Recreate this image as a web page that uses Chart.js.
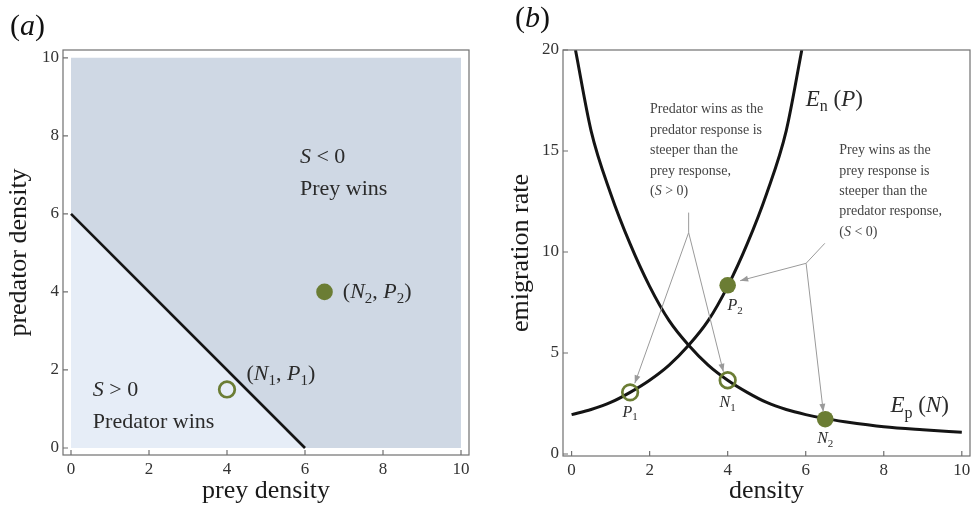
<!DOCTYPE html>
<html>
<head>
<meta charset="utf-8">
<script src="https://cdn.jsdelivr.net/npm/chart.js@4.4.0/dist/chart.umd.min.js"></script>
<style>
  html, body { margin: 0; padding: 0; background: #fff; overflow: hidden; }
  #wrap { position: relative; width: 975px; height: 511px; }
  canvas { position: absolute; top: 0; }
  #chartA { left: 0; }
  #chartB { left: 487px; }
</style>
</head>
<body>
<div id="wrap">
  <canvas id="chartA" width="487" height="511"></canvas>
  <canvas id="chartB" width="488" height="511"></canvas>
</div>
<script>
// =================== DADOS PAINEL (a) ===================
const fronteiraX = [0, 6];          // linha S = 0
const fronteiraY = [6, 0];
const regiaoX = [0, 10];            // quadrado sombreado
const regiaoY = [10, 10];
const ponto1 = [4, 1.5];            // (N1, P1) - aberto
const ponto2 = [6.5, 4];            // (N2, P2) - cheio
const ticksAx = [0, 2, 4, 6, 8, 10];
const ticksAy = [0, 2, 4, 6, 8, 10];

// =================== DADOS PAINEL (b) ===================
const enX = [0, 0.5, 1, 1.5, 2, 2.5, 3, 3.5, 4, 4.5, 5, 5.5, 5.9];
const enY = [1.95, 2.2, 2.55, 3.05, 3.65, 4.4, 5.38, 6.6, 8.3, 10.4, 12.9, 16.0, 20.0];
const epX = [0.1, 0.5, 1, 1.5, 2, 2.5, 3, 3.5, 4, 4.5, 5, 5.5, 6, 6.5, 7, 8, 9, 10];
const epY = [20, 16.0, 12.9, 10.4, 8.3, 6.6, 5.38, 4.4, 3.65, 3.05, 2.55, 2.2, 1.95, 1.75, 1.6, 1.35, 1.2, 1.08];
const abertosX = [1.5, 4];          // P1, N1
const abertosY = [3.05, 3.65];
const cheiosX = [4, 6.5];           // P2, N2
const cheiosY = [8.35, 1.72];
const ticksBx = [0, 2, 4, 6, 8, 10];
const ticksBy = [0, 5, 10, 15, 20];

// =================== ESTILO ===================
const OLIVA = '#6b7d34';
const ESCURO = '#cfd8e4';
const CLARO = '#e6edf7';
const FONTE = '"Liberation Serif", "Times New Roman", serif';
const COR_TEXTO = '#2b2b2b';
const COR_SETA = '#9a9a9a';

Chart.defaults.font.family = FONTE;
Chart.defaults.color = '#333';

const pares = (xs, ys) => xs.map((x, i) => ({ x: x, y: ys[i] }));

function fonteDe(estilo, tam) {
    if (estilo === 'i') return `italic ${tam}px ${FONTE}`;
    if (estilo === 's') return `${Math.round(tam * 0.7)}px ${FONTE}`;
    return `${tam}px ${FONTE}`;
}

// desenha texto com partes em italico / subscrito
function textoRico(ctx, partes, x, y, tam, alinhar) {
    let largura = 0;
    partes.forEach(([t, e]) => { ctx.font = fonteDe(e, tam); largura += ctx.measureText(t).width; });
    let cx = alinhar === 'center' ? x - largura / 2 : x;
    ctx.textAlign = 'left';
    ctx.textBaseline = 'alphabetic';
    partes.forEach(([t, e]) => {
        ctx.font = fonteDe(e, tam);
        const dy = e === 's' ? tam * 0.24 : 0;
        ctx.fillText(t, cx, y + dy);
        cx += ctx.measureText(t).width;
    });
}

// =================== PLUGIN MOLDURA ===================
const moldura = {
    id: 'moldura',
    afterDatasetsDraw(chart, args, opts) {
        const { ctx, chartArea: a } = chart;
        const sx = chart.scales.x, sy = chart.scales.y;
        ctx.save();
        ctx.strokeStyle = '#707070';
        ctx.lineWidth = 1.2;
        ctx.strokeRect(a.left, a.top, a.right - a.left, a.bottom - a.top);
        ctx.beginPath();
        sx.ticks.forEach(t => {
            const p = sx.getPixelForValue(t.value);
            ctx.moveTo(p, a.bottom); ctx.lineTo(p, a.bottom - 5);
        });
        sy.ticks.forEach(t => {
            const p = sy.getPixelForValue(t.value);
            ctx.moveTo(a.left, p); ctx.lineTo(a.left + 5, p);
        });
        ctx.stroke();
        ctx.restore();
    }
};

// =================== PLUGIN ANOTACOES ===================
const anotacoes = {
    id: 'anotacoes',
    afterDraw(chart, args, opts) {
        const ctx = chart.ctx;
        const sx = chart.scales.x, sy = chart.scales.y;
        const px = v => sx.getPixelForValue(v);
        const py = v => sy.getPixelForValue(v);
        ctx.save();

        (opts.setas || []).forEach(s => {
            const pts = s.map(([x, y]) => [px(x), py(y)]);
            ctx.strokeStyle = COR_SETA;
            ctx.fillStyle = COR_SETA;
            ctx.lineWidth = 1;
            ctx.beginPath();
            pts.forEach(([x, y], i) => i ? ctx.lineTo(x, y) : ctx.moveTo(x, y));
            ctx.stroke();
            // ponta da seta
            const [x1, y1] = pts[pts.length - 2];
            const [x2, y2] = pts[pts.length - 1];
            const d = Math.hypot(x2 - x1, y2 - y1);
            const ux = (x2 - x1) / d, uy = (y2 - y1) / d;
            ctx.beginPath();
            ctx.moveTo(x2, y2);
            ctx.lineTo(x2 - 8 * ux - 3 * uy, y2 - 8 * uy + 3 * ux);
            ctx.lineTo(x2 - 8 * ux + 3 * uy, y2 - 8 * uy - 3 * ux);
            ctx.closePath();
            ctx.fill();
        });

        (opts.textos || []).forEach(t => {
            ctx.fillStyle = t.cor || COR_TEXTO;
            const x = t.pixel ? t.x : px(t.x);
            const y = t.pixel ? t.y : py(t.y);
            textoRico(ctx, t.partes, x, y, t.tam, t.alinhar);
        });
        ctx.restore();
    }
};

function escala(min, max, ticks, largura, altura, titulo, pad) {
    return {
        type: 'linear',
        min: min,
        max: max,
        afterBuildTicks: s => { s.ticks = ticks.map(v => ({ value: v })); },
        afterFit: s => {
            if (largura) s.width = largura;
            if (altura) s.height = altura;
            // sem folga extra dos rotulos das pontas
            s.paddingLeft = 0; s.paddingRight = 0;
            s.paddingTop = 0; s.paddingBottom = 0;
        },
        grid: { display: false, drawTicks: false },
        border: { display: false },
        ticks: {
            autoSkip: false,
            maxRotation: 0,
            padding: 4,
            color: '#333',
            font: { size: 17 },
            callback: v => String(v)
        },
        title: {
            display: true,
            text: titulo,
            color: '#1a1a1a',
            font: { size: 26 },
            padding: pad
        }
    };
}

// =================== PAINEL (a) ===================
function criarPainelA() {
    const fronteira = pares(fronteiraX, fronteiraY);
    return new Chart(document.getElementById('chartA'), {
        type: 'line',
        data: {
            datasets: [
                { data: [{ x: ponto1[0], y: ponto1[1] }], showLine: false, pointRadius: 7.8,
                  pointBorderWidth: 2.7, pointBorderColor: OLIVA, pointBackgroundColor: 'rgba(0,0,0,0)' },
                { data: [{ x: ponto2[0], y: ponto2[1] }], showLine: false, pointRadius: 8.3,
                  pointBorderWidth: 0, pointBackgroundColor: OLIVA },
                { data: fronteira, borderColor: '#141414', borderWidth: 2.6, pointRadius: 0, fill: false },
                { data: fronteira, borderColor: 'rgba(0,0,0,0)', borderWidth: 0, pointRadius: 0,
                  backgroundColor: CLARO, fill: 'origin' },
                { data: pares(regiaoX, regiaoY), borderColor: 'rgba(0,0,0,0)', borderWidth: 0, pointRadius: 0,
                  backgroundColor: ESCURO, fill: 'origin' }
            ]
        },
        options: {
            responsive: false,
            animation: false,
            events: [],
            devicePixelRatio: 1,
            layout: { autoPadding: false, padding: { left: 0, top: 50, right: 18, bottom: 0 } },
            scales: {
                x: escala(-0.205, 10.205, ticksAx, null, 56, 'prey density', { bottom: 4 }),
                y: escala(-0.18, 10.2, ticksAy, 63, null, 'predator density', { top: 4 })
            },
            plugins: {
                legend: { display: false },
                tooltip: { enabled: false },
                anotacoes: {
                    textos: [
                        { x: 10, y: 35, pixel: true, tam: 30, partes: [['(', 'r'], ['a', 'i'], [')', 'r']], cor: '#111' },
                        { x: 5.87, y: 7.3, tam: 22, partes: [['S', 'i'], [' < 0', 'r']] },
                        { x: 5.87, y: 6.49, tam: 22, partes: [['Prey wins', 'r']] },
                        { x: 6.97, y: 3.85, tam: 22, partes: [['(', 'r'], ['N', 'i'], ['2', 's'], [', ', 'r'], ['P', 'i'], ['2', 's'], [')', 'r']] },
                        { x: 4.5, y: 1.74, tam: 22, partes: [['(', 'r'], ['N', 'i'], ['1', 's'], [', ', 'r'], ['P', 'i'], ['1', 's'], [')', 'r']] },
                        { x: 0.56, y: 1.32, tam: 22, partes: [['S', 'i'], [' > 0', 'r']] },
                        { x: 0.56, y: 0.5, tam: 22, partes: [['Predator wins', 'r']] }
                    ]
                }
            }
        },
        plugins: [moldura, anotacoes]
    });
}

// =================== PAINEL (b) ===================
function criarPainelB() {
    const bloco1 = ['Predator wins as the', 'predator response is', 'steeper than the', 'prey response,'];
    const bloco2 = ['Prey wins as the', 'prey response is', 'steeper than the', 'predator response,'];
    const textos = [
        { x: 28, y: 27, pixel: true, tam: 30, partes: [['(', 'r'], ['b', 'i'], [')', 'r']], cor: '#111' },
        { x: 6.0, y: 17.23, tam: 23, partes: [['E', 'i'], ['n', 's'], [' (', 'r'], ['P', 'i'], [')', 'r']] },
        { x: 8.17, y: 2.06, tam: 23, partes: [['E', 'i'], ['p', 's'], [' (', 'r'], ['N', 'i'], [')', 'r']] },
        { x: 1.5, y: 1.85, tam: 16, alinhar: 'center', partes: [['P', 'i'], ['1', 's']] },
        { x: 4.0, y: 2.34, tam: 16, alinhar: 'center', partes: [['N', 'i'], ['1', 's']] },
        { x: 4.19, y: 7.13, tam: 16, alinhar: 'center', partes: [['P', 'i'], ['2', 's']] },
        { x: 6.5, y: 0.53, tam: 16, alinhar: 'center', partes: [['N', 'i'], ['2', 's']] }
    ];
    const linhas1 = [16.86, 15.84, 14.85, 13.83];
    const linhas2 = [14.85, 13.83, 12.82, 11.81];
    bloco1.forEach((t, i) => textos.push({ x: 2.01, y: linhas1[i], tam: 14, cor: '#444', partes: [[t, 'r']] }));
    bloco2.forEach((t, i) => textos.push({ x: 6.86, y: linhas2[i], tam: 14, cor: '#444', partes: [[t, 'r']] }));
    textos.push({ x: 2.01, y: 12.82, tam: 14, cor: '#444', partes: [['(', 'r'], ['S', 'i'], [' > 0)', 'r']] });
    textos.push({ x: 6.86, y: 10.8, tam: 14, cor: '#444', partes: [['(', 'r'], ['S', 'i'], [' < 0)', 'r']] });

    return new Chart(document.getElementById('chartB'), {
        type: 'line',
        data: {
            datasets: [
                { data: pares(abertosX, abertosY), showLine: false, pointRadius: 7.8,
                  pointBorderWidth: 2.7, pointBorderColor: OLIVA, pointBackgroundColor: 'rgba(0,0,0,0)' },
                { data: pares(cheiosX, cheiosY), showLine: false, pointRadius: 8.3,
                  pointBorderWidth: 0, pointBackgroundColor: OLIVA },
                { data: pares(enX, enY), borderColor: '#141414', borderWidth: 3, pointRadius: 0,
                  cubicInterpolationMode: 'monotone', fill: false },
                { data: pares(epX, epY), borderColor: '#141414', borderWidth: 3, pointRadius: 0,
                  cubicInterpolationMode: 'monotone', fill: false }
            ]
        },
        options: {
            responsive: false,
            animation: false,
            events: [],
            devicePixelRatio: 1,
            layout: { autoPadding: false, padding: { left: 0, top: 50, right: 5, bottom: 0 } },
            scales: {
                x: escala(-0.22, 10.21, ticksBx, null, 55, 'density', { bottom: 4 }),
                y: escala(-0.1, 20, ticksBy, 76, null, 'emigration rate', { top: 19 })
            },
            plugins: {
                legend: { display: false },
                tooltip: { enabled: false },
                anotacoes: {
                    textos: textos,
                    setas: [
                        [[3.0, 11.95], [3.0, 10.96], [1.62, 3.5]],
                        [[3.0, 10.96], [3.89, 4.07]],
                        [[6.49, 10.43], [6.01, 9.44], [4.32, 8.58]],
                        [[6.01, 9.44], [6.45, 2.09]]
                    ]
                }
            }
        },
        plugins: [moldura, anotacoes]
    });
}

criarPainelA();
criarPainelB();
</script>
</body>
</html>
